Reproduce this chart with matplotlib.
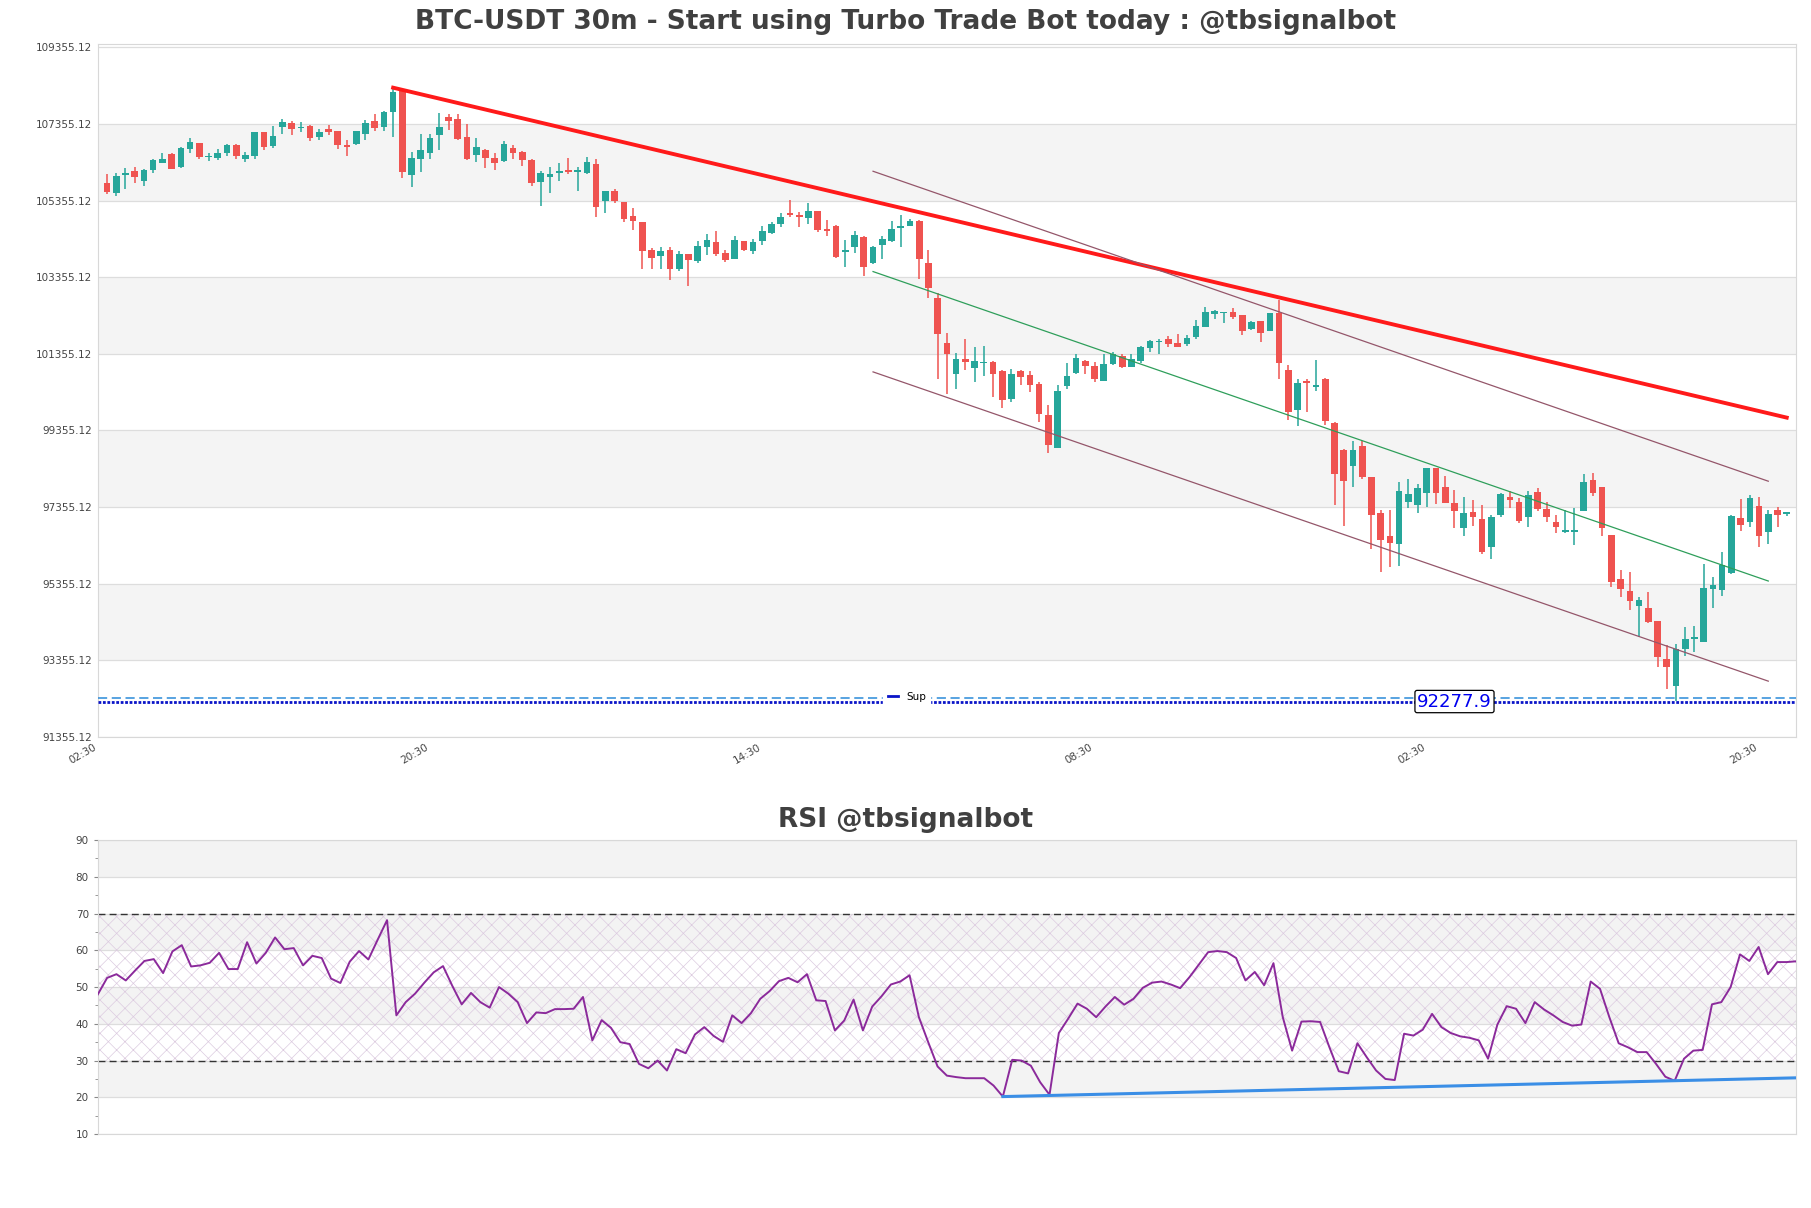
import matplotlib.pyplot as plt
from matplotlib.lines import Line2D
import numpy as np

# OHLC values (30m candles)
opens = [105814, 105548, 106037, 106132, 105857, 106166, 106347, 106570, 106235, 106707,
         106853, 106492, 106458, 106595, 106801, 106450, 106518, 107136, 106776, 107274,
         107394, 107248, 107291, 107007, 107222, 107162, 106810, 106836, 107093, 107445,
         107274, 107660, 108218, 106037, 106450, 106604, 107068, 107532, 107497, 107015,
         106558, 106678, 106471, 106377, 106721, 106627, 106420, 105834, 105971, 106075,
         106135, 106109, 106083, 106316, 105342, 105618, 105325, 104946, 104790, 104066,
         103902, 104066, 103575, 103963, 103773, 104152, 104273, 103989, 103825, 104299,
         104040, 104308, 104523, 104756, 105023, 104954, 104911, 105075, 104601, 104699,
         104001, 104132, 104402, 103739, 104184, 104306, 104629, 104682, 104830, 103730,
         102822, 101626, 100832, 101233, 100998, 101120, 101146, 100902, 100168, 100902,
         100814, 100570, 99749, 98894, 100509, 100858, 101181, 101033, 100649, 101094,
         101295, 101015, 101172, 101513, 101652, 101731, 101626, 101600, 101801, 102063,
         102403, 102421, 102438, 102368, 102004, 102205, 101943, 102422, 100941, 99895,
         100653, 100488, 100706, 99547, 98832, 98440, 98954, 98143, 97193, 96601,
         96392, 97498, 97411, 97716, 98370, 97873, 97455, 96801, 97237, 97037,
         96322, 97150, 97612, 97498, 97106, 97760, 97298, 96976, 96714, 96697,
         97263, 98065, 97873, 96627, 95477, 95163, 94779, 94710, 94387, 93385,
         92688, 93638, 93908, 93821, 95206, 95189, 95625, 97063, 96976, 97385,
         96714, 97281, 97176]
highs = [106046, 106072, 106201, 106235, 106192, 106441, 106587, 106587, 106759, 106982,
         106870, 106604, 106690, 106827, 106844, 106630, 107154, 107154, 107308, 107488,
         107445, 107420, 107317, 107214, 107317, 107179, 106930, 107179, 107462, 107626,
         107703, 108304, 108261, 106621, 107085, 107085, 107651, 107609, 107627, 107368,
         106980, 106696, 106592, 106911, 106808, 106644, 106437, 106118, 106230, 106333,
         106463, 106221, 106489, 106454, 105618, 105661, 105325, 105152, 104790, 104109,
         104135, 104152, 104032, 103963, 104308, 104480, 104558, 104075, 104420, 104299,
         104351, 104687, 104808, 105040, 105359, 105066, 105282, 105075, 104859, 104725,
         104315, 104551, 104420, 104175, 104420, 104813, 104987, 104874, 104848, 104071,
         102945, 101888, 101382, 101731, 101539, 101565, 101164, 100945, 100963, 100945,
         100902, 100614, 100029, 100535, 101129, 101356, 101207, 101146, 101364, 101391,
         101347, 101356, 101565, 101722, 101731, 101818, 101871, 101836, 102237, 102587,
         102499, 102440, 102543, 102368, 102205, 102205, 102422, 102771, 101072, 100697,
         100697, 101185, 100723, 99564, 98867, 99067, 99067, 98143, 97281, 97281,
         98021, 98100, 97960, 98387, 98370, 98170, 97804, 97629, 97542, 97411,
         97150, 97734, 97786, 97586, 97786, 97847, 97498, 97150, 97281, 97324,
         98222, 98257, 97891, 96627, 95712, 95668, 94997, 95128, 94387, 93751,
         93768, 94230, 94256, 95860, 95538, 96174, 97150, 97559, 97673, 97612,
         97281, 97368, 97230]
lows = [105531, 105480, 105660, 105806, 105728, 106089, 106329, 106175, 106218, 106604,
        106450, 106398, 106415, 106527, 106450, 106372, 106450, 106681, 106741, 107093,
        107059, 107145, 106913, 106930, 107059, 106690, 106518, 106801, 106939, 107171,
        107171, 107016, 105935, 105703, 106115, 106450, 106681, 107204, 106937, 106403,
        106351, 106196, 106144, 106360, 106446, 106247, 105730, 105213, 105549, 105859,
        106049, 105601, 106058, 104928, 105032, 105290, 104799, 104592, 103558, 103575,
        103583, 103273, 103514, 103118, 103739, 103937, 103902, 103764, 103825, 104040,
        103963, 104204, 104489, 104670, 104937, 104678, 104747, 104540, 104437, 103852,
        103634, 103983, 103398, 103704, 103844, 104280, 104140, 104682, 103320, 102805,
        100710, 100317, 100448, 100945, 100622, 100771, 100230, 99941, 100107, 100535,
        100360, 99583, 98772, 98894, 100448, 100841, 100823, 100622, 100649, 101059,
        100989, 101015, 101120, 101391, 101356, 101539, 101521, 101565, 101731, 102063,
        102255, 102168, 102272, 101844, 101969, 101656, 101943, 100697, 99634, 99459,
        99834, 100374, 99486, 97411, 96871, 97891, 98091, 96252, 95668, 95782,
        95825, 97342, 97211, 97368, 97437, 97455, 96801, 96601, 96862, 96130,
        95991, 97089, 97324, 96950, 96845, 97263, 96976, 96671, 96671, 96366,
        97263, 97655, 96610, 95276, 94997, 94666, 93969, 94318, 93185, 92601,
        92285, 93472, 93577, 93821, 94727, 95041, 95607, 96740, 96828, 96305,
        96392, 96845, 97124]
closes = [105574, 106003, 106072, 105960, 106158, 106415, 106441, 106192, 106733, 106879,
          106492, 106518, 106595, 106801, 106518, 106544, 107136, 106759, 107033, 107420,
          107222, 107274, 106990, 107154, 107145, 106810, 106767, 107162, 107394, 107248,
          107677, 108192, 106106, 106467, 106673, 106982, 107282, 107437, 106963, 106446,
          106747, 106480, 106325, 106834, 106609, 106411, 105808, 106083, 106049, 106118,
          106109, 106135, 106368, 105187, 105618, 105342, 104868, 104825, 104049, 103868,
          104040, 103575, 103963, 103816, 104170, 104316, 103971, 103816, 104316, 104075,
          104273, 104575, 104739, 104937, 104980, 104937, 105075, 104583, 104575, 103879,
          104071, 104455, 103634, 104140, 104359, 104612, 104682, 104830, 103835, 103084,
          101880, 101338, 101216, 101146, 101164, 101137, 100832, 100151, 100823, 100753,
          100552, 99793, 98981, 100378, 100788, 101242, 101041, 100701, 101085, 101347,
          101015, 101225, 101521, 101679, 101696, 101600, 101539, 101766, 102072, 102438,
          102464, 102438, 102316, 101958, 102178, 101900, 102422, 101115, 99834, 100592,
          100592, 100549, 99590, 98213, 98048, 98849, 98135, 97150, 96496, 96409,
          97786, 97699, 97847, 98370, 97716, 97472, 97263, 97193, 97089, 96174,
          97106, 97699, 97542, 97002, 97673, 97298, 97106, 96828, 96758, 96758,
          98004, 97734, 96801, 95407, 95215, 94910, 94928, 94344, 93446, 93167,
          93646, 93899, 93951, 95233, 95320, 95843, 97124, 96888, 97586, 96610,
          97167, 97150, 97220]

rsi = [48.0, 52.5, 53.5, 51.8, 54.5, 57.1, 57.6, 53.8, 59.7, 61.4,
       55.6, 55.9, 56.6, 59.3, 54.9, 54.9, 62.2, 56.4, 59.3, 63.5,
       60.3, 60.6, 55.9, 58.5, 57.9, 52.3, 51.1, 56.9, 59.8, 57.5,
       62.9, 68.2, 42.3, 45.9, 48.2, 51.2, 54.0, 55.7, 50.3, 45.3,
       48.4, 45.9, 44.4, 50.0, 48.2, 45.9, 40.2, 43.1, 42.9, 44.0,
       44.0, 44.1, 47.3, 35.5, 41.0, 38.9, 35.0, 34.5, 29.1, 27.9,
       30.0, 27.3, 33.1, 32.0, 37.1, 39.1, 36.7, 35.1, 42.3, 40.2,
       42.9, 46.8, 48.9, 51.6, 52.5, 51.3, 53.5, 46.4, 46.2, 38.2,
       40.9, 46.6, 38.2, 44.7, 47.5, 50.7, 51.5, 53.2, 41.8, 35.0,
       28.4, 25.9, 25.5, 25.2, 25.2, 25.2, 23.2, 20.2, 30.2, 30.0,
       28.6, 24.1, 20.7, 37.5, 41.4, 45.5, 44.1, 41.8, 44.7, 47.3,
       45.2, 46.8, 49.8, 51.2, 51.5, 50.7, 49.7, 52.7, 56.1, 59.5,
       59.8, 59.5, 57.9, 51.8, 54.1, 50.5, 56.5, 41.8, 32.7, 40.6,
       40.7, 40.5, 33.6, 27.1, 26.5, 34.7, 30.9, 27.3, 25.0, 24.7,
       37.3, 36.8, 38.4, 42.7, 39.1, 37.5, 36.6, 36.2, 35.5, 30.5,
       39.8, 44.8, 44.1, 40.2, 45.9, 43.9, 42.3, 40.5, 39.5, 39.8,
       51.5, 49.5, 41.8, 34.7, 33.6, 32.3, 32.3, 29.1, 25.6, 24.5,
       30.5, 32.7, 32.9, 45.3, 45.9, 50.0, 58.9, 57.1, 60.9, 53.5,
       56.8, 56.8, 57.0]

x_tick_pos = [-1, 35, 71, 107, 143, 179]
x_tick_labels = ['02:30', '20:30', '14:30', '08:30', '02:30', '20:30']
y_ticks = [91355.12, 93355.12, 95355.12, 97355.12, 99355.12,
           101355.12, 103355.12, 105355.12, 107355.12, 109355.12]

support = 92277.9
support_dash = 92360
# trend line (index, price)
trend_x = [31, 182]
trend_y = [108304, 99690]
# regression channel
chan_x = [83, 180]
chan_upper = [106122, 98030]
chan_mid = [103503, 95424]
chan_lower = [100884, 92810]
# rsi trend
rsi_tr_x = [97, 182]
rsi_tr_y = [20.2, 25.3]

o = np.array(opens, float)
h = np.array(highs, float)
l = np.array(lows, float)
c = np.array(closes, float)
x = np.arange(len(o))

fig = plt.figure(figsize=(18.11, 12.08), dpi=100)
ax = fig.add_axes([0.054, 0.390, 0.9377, 0.5736])
ax2 = fig.add_axes([0.054, 0.0612, 0.9377, 0.2434])

# ---- price panel ----
for lo in y_ticks[1::2][:4]:
    ax.axhspan(lo, lo + 2000, color='#f4f4f4', zorder=0, lw=0)
ax.set_yticks(y_ticks)
ax.set_yticklabels([f'{v:.2f}' for v in y_ticks])
ax.grid(axis='y', color='#dddddd', lw=0.9)
ax.set_axisbelow(True)

up = c >= o
cols = np.where(up, '#26a69a', '#ef5350')
ax.vlines(x, l, h, colors=cols, lw=1.1, zorder=2)
bottom = np.minimum(o, c)
height = np.maximum(np.abs(c - o), 35)
ax.bar(x, height, bottom=bottom, width=0.72, color=cols, lw=0, zorder=3)

ax.plot(trend_x, trend_y, color='#ff1a1a', lw=2.8, zorder=4)
ax.plot(chan_x, chan_upper, color='#94566a', lw=0.9, zorder=4)
ax.plot(chan_x, chan_mid, color='#2e9e5a', lw=0.9, zorder=4)
ax.plot(chan_x, chan_lower, color='#94566a', lw=0.9, zorder=4)

ax.axhline(support_dash, color='#2a8ad8', lw=1.1, ls=(0, (6, 3)), zorder=4)
ax.axhline(support, color='#0a14c8', lw=2.0, ls=(0, (1, 0.6)), zorder=4)
ax.text(146, support, f'{support}', color='#0000ee', fontsize=13,
        ha='center', va='center', zorder=6,
        bbox=dict(boxstyle='round,pad=0.12', fc='white', ec='black', lw=0.9))
leg = ax.legend(handles=[Line2D([], [], color='#0a14c8', lw=2)], labels=['Sup'],
                loc='center', bbox_to_anchor=(0.4765, 0.058), fontsize=7.5,
                handlelength=1.0, frameon=True, framealpha=1, edgecolor='white',
                fancybox=False)
leg.set_zorder(7)

ax.set_xlim(-1, 183)
ax.set_ylim(91355.12, 109445)
ax.set_xticks(x_tick_pos)
ax.set_xticklabels(x_tick_labels, rotation=30, ha='right')
ax.tick_params(length=0, labelsize=7.5, labelcolor='#444444', pad=4)
for s in ax.spines.values():
    s.set_color('#d8d8d8')

# ---- RSI panel ----
xr = np.arange(len(rsi))
for lo in [20, 40, 60, 80]:
    ax2.axhspan(lo, lo + 10, color='#f3f3f3', zorder=0, lw=0)
plt.rcParams['hatch.linewidth'] = 0.5
ax2.fill_between([0, len(rsi) - 1], 30, 70, facecolor='none',
                 edgecolor='#dccbe0', hatch='xx', lw=0, zorder=1)
ax2.set_yticks(range(10, 91, 10))
ax2.set_yticks(range(15, 90, 10), minor=True)
ax2.grid(axis='y', which='major', color='#dddddd', lw=0.9)
ax2.set_axisbelow(True)
ax2.axhline(70, color='#333333', lw=1.0, ls=(0, (5, 3)), zorder=2)
ax2.axhline(30, color='#333333', lw=1.0, ls=(0, (5, 3)), zorder=2)
ax2.plot(xr, rsi, color='#8b2a9b', lw=1.4, zorder=3)
ax2.plot(rsi_tr_x, rsi_tr_y, color='#3a8ee6', lw=2.2, zorder=3)
ax2.set_xlim(0, len(rsi) - 1)
ax2.set_ylim(10, 90)
ax2.set_xticks([])
ax2.tick_params(axis='y', which='major', length=3, labelsize=7.5,
                labelcolor='#444444', color='#888888')
ax2.tick_params(axis='y', which='minor', length=2, color='#888888')
for s in ax2.spines.values():
    s.set_color('#d8d8d8')

fig.text(0.5, 0.982, 'BTC-USDT 30m - Start using Turbo Trade Bot today : @tbsignalbot',
         ha='center', va='center', fontsize=19, fontweight='bold', color='#404040')
fig.text(0.5, 0.321, 'RSI @tbsignalbot', ha='center', va='center',
         fontsize=19, fontweight='bold', color='#404040')

fig.savefig('out.png', dpi=100)
